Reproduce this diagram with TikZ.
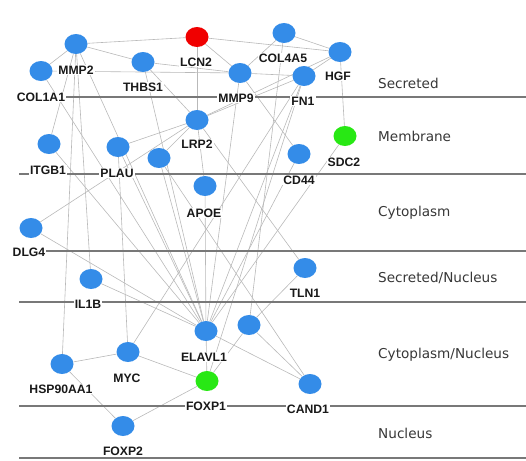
\documentclass[tikz,border=0pt]{standalone}
\usepackage{fontspec}
\usetikzlibrary{shapes.geometric,backgrounds}
\newfontfamily\genefont{Liberation Sans}
\newfontfamily\zonefont{DejaVu Sans}
\definecolor{geneblue}{RGB}{52,140,232}
\definecolor{genered}{RGB}{240,0,0}
\definecolor{genegreen}{RGB}{40,232,20}
\definecolor{linkgray}{RGB}{185,185,185}
\definecolor{lanegray}{RGB}{120,120,120}
\definecolor{zonetext}{RGB}{55,55,55}
\tikzset{
  gene/.style={ellipse, minimum width=23pt, minimum height=20pt, inner sep=0pt, fill=geneblue},
  redgene/.style={gene, fill=genered},
  greengene/.style={gene, fill=genegreen},
  glabel/.style={font=\genefont\bfseries\fontsize{12.2}{14}\selectfont, text=black!90, fill=white, inner sep=1pt},
  link/.style={draw=linkgray, line width=0.6pt},
  lane/.style={draw=lanegray, line width=1.1pt},
  zone/.style={anchor=west, font=\zonefont\fontsize{13.6}{16}\selectfont, text=zonetext, inner sep=0pt}
}
\begin{document}
\begin{tikzpicture}[x=1pt, y=-1pt]
\useasboundingbox (0,0) rectangle (526,460);

% compartment boundaries
\foreach \yy in {97,174,251,302,406,458}
  \draw[lane] (19,\yy) -- (526,\yy);

% compartment names
\node[zone] (zsec)  at (378,83)  {Secreted};
\node[zone] (zmem)  at (378,136) {Membrane};
\node[zone] (zcyt)  at (378,213) {Cytoplasm};
\node[zone] (zsn)   at (378,278) {Secreted/Nucleus};
\node[zone] (zcn)   at (378,355) {Cytoplasm/Nucleus};
\node[zone] (znuc)  at (378,433) {Nucleus};

% genes
\node[gene]      (MMP2)   at (76,44)   {};
\node[gene]      (COL1A1) at (41,71)   {};
\node[gene]      (THBS1)  at (143,62)  {};
\node[redgene]   (LCN2)   at (197,37)  {};
\node[gene]      (MMP9)   at (240,73)  {};
\node[gene]      (COL4A5) at (284,33)  {};
\node[gene]      (HGF)    at (340,52)  {};
\node[gene]      (FN1)    at (304,76)  {};
\node[gene]      (LRP2)   at (197,120) {};
\node[gene]      (ITGB1)  at (49,144)  {};
\node[gene]      (PLAU)   at (118,147) {};
\node[gene]      (GA)     at (159,158) {};
\node[gene]      (APOE)   at (205,186) {};
\node[gene]      (CD44)   at (299,154) {};
\node[greengene] (SDC2)   at (345,136) {};
\node[gene]      (DLG4)   at (31,228)  {};
\node[gene]      (IL1B)   at (91,279)  {};
\node[gene]      (TLN1)   at (305,268) {};
\node[gene]      (ELAVL1) at (206,331) {};
\node[gene]      (GB)     at (249,325) {};
\node[gene]      (MYC)    at (128,352) {};
\node[gene]      (HSP)    at (62,364)  {};
\node[greengene] (FOXP1)  at (207,381) {};
\node[gene]      (CAND1)  at (310,384) {};
\node[gene]      (FOXP2)  at (123,426) {};

% interactions, kept behind the genes and boundaries
\begin{scope}[on background layer]
\foreach \a/\b in {
  MMP2/LCN2, MMP2/THBS1, MMP2/COL1A1, COL1A1/MMP9, THBS1/MMP9,
  LCN2/MMP9, LCN2/LRP2, LCN2/HGF, MMP9/FN1, MMP9/COL4A5,
  COL4A5/HGF, HGF/FN1, HGF/LRP2, FN1/LRP2, HGF/SDC2, MMP9/CD44,
  THBS1/LRP2, LRP2/PLAU, LRP2/GA, LRP2/APOE, LRP2/DLG4, LRP2/TLN1,
  MMP2/ITGB1, MMP2/HSP, MMP2/IL1B, MMP2/ELAVL1, COL1A1/ELAVL1,
  ITGB1/ELAVL1, PLAU/MYC, PLAU/ELAVL1, GA/ELAVL1, THBS1/ELAVL1,
  APOE/ELAVL1, DLG4/ELAVL1, IL1B/ELAVL1, FN1/ELAVL1, FN1/MYC,
  CD44/ELAVL1, SDC2/ELAVL1, MMP9/ELAVL1, COL4A5/GB, FN1/FOXP1,
  GB/TLN1, GB/FOXP1, GB/CAND1, ELAVL1/CAND1, ELAVL1/FOXP1,
  MYC/FOXP1, MYC/HSP, HSP/FOXP2, FOXP2/FOXP1, GA/CAND1}
  \draw[link] (\a) -- (\b);
\end{scope}

% gene names
\node[glabel] (lMMP2)   at (76,70)   {MMP2};
\node[glabel] (lCOL1A1) at (41,97)   {COL1A1};
\node[glabel] (lTHBS1)  at (143,87)  {THBS1};
\node[glabel] (lLCN2)   at (196,62)  {LCN2};
\node[glabel] (lMMP9)   at (236,98)  {MMP9};
\node[glabel] (lCOL4A5) at (283,58)  {COL4A5};
\node[glabel] (lHGF)    at (338,76)  {HGF};
\node[glabel] (lFN1)    at (303,101) {FN1};
\node[glabel] (lLRP2)   at (197,144) {LRP2};
\node[glabel] (lITGB1)  at (48,170)  {ITGB1};
\node[glabel] (lPLAU)   at (117,173) {PLAU};
\node[glabel] (lAPOE)   at (204,213) {APOE};
\node[glabel] (lSDC2)   at (344,162) {SDC2};
\node[glabel] (lCD44)   at (299,180) {CD44};
\node[glabel] (lDLG4)   at (29,252)  {DLG4};
\node[glabel] (lIL1B)   at (88,304)  {IL1B};
\node[glabel] (lTLN1)   at (305,293) {TLN1};
\node[glabel] (lELAVL1) at (204,357) {ELAVL1};
\node[glabel] (lMYC)    at (127,378) {MYC};
\node[glabel] (lHSP)    at (61,389)  {HSP90AA1};
\node[glabel] (lFOXP1)  at (206,406) {FOXP1};
\node[glabel] (lCAND1)  at (308,409) {CAND1};
\node[glabel] (lFOXP2)  at (123,451) {FOXP2};
\end{tikzpicture}
\end{document}
